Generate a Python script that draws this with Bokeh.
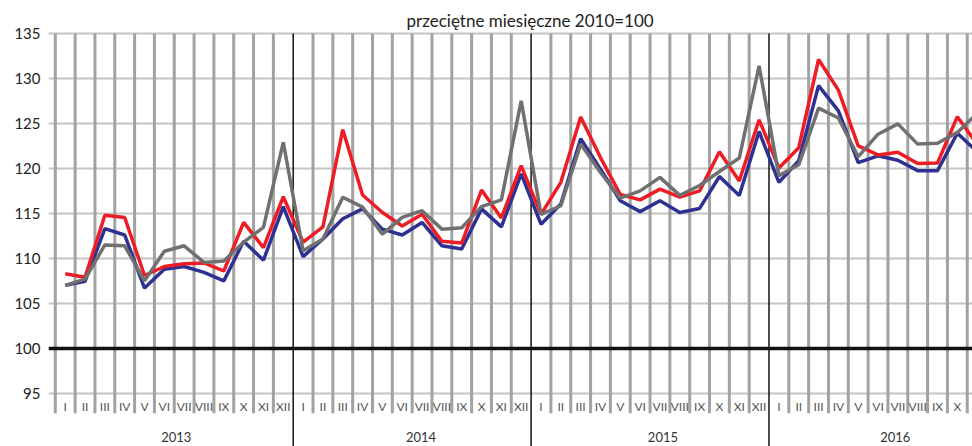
from bokeh.plotting import figure
from bokeh.models import Range1d, FixedTicker, Span
from bokeh.core.properties import value
from bokeh.embed import file_html
from bokeh.resources import INLINE

# ---------------- data ----------------
title_text = "przeciętne miesięczne 2010=100"
years = ["2013", "2014", "2015", "2016"]
months = ["I", "II", "III", "IV", "V", "VI", "VII", "VIII", "IX", "X", "XI", "XII"]
y_ticks = [95, 100, 105, 110, 115, 120, 125, 130, 135]

red_series = [
    108.3, 107.9, 114.8, 114.55, 108.1, 109.1, 109.4, 109.5, 108.6, 114.0, 111.2, 116.85,
    111.8, 113.5, 124.3, 117.05, 115.1, 113.6, 114.9, 111.9, 111.7, 117.6, 114.5, 120.3,
    114.9, 118.45, 125.7, 121.2, 117.1, 116.5, 117.7, 116.8, 117.5, 121.85, 118.6, 125.4,
    120.05, 122.3, 132.1, 128.7, 122.5, 121.5, 121.8, 120.55, 120.6, 125.75, 122.7,
]
blue_series = [
    107.0, 107.45, 113.3, 112.6, 106.7, 108.8, 109.1, 108.45, 107.5, 111.9, 109.8, 115.75,
    110.2, 112.15, 114.4, 115.5, 113.25, 112.6, 114.0, 111.4, 111.05, 115.5, 113.5, 119.4,
    113.8, 116.05, 123.3, 119.9, 116.4, 115.2, 116.4, 115.1, 115.55, 119.1, 117.0, 124.1,
    118.45, 120.85, 129.2, 126.4, 120.65, 121.4, 120.9, 119.75, 119.75, 123.9, 121.85,
]
gray_series = [
    107.0, 107.7, 111.5, 111.4, 107.5, 110.8, 111.4, 109.55, 109.7, 111.8, 113.45, 122.9,
    110.85, 112.15, 116.8, 115.7, 112.7, 114.55, 115.3, 113.25, 113.4, 115.75, 116.5, 127.5,
    114.9, 115.85, 122.7, 119.55, 116.7, 117.5, 119.0, 117.0, 118.1, 119.65, 121.15, 131.4,
    119.2, 120.4, 126.7, 125.6, 121.3, 123.8, 124.95, 122.7, 122.8, 124.0, 126.1,
]

# ---------------- layout ----------------
n = len(red_series)
xc = [i + 0.5 for i in range(n)]

PX = 19.825          # pixels per month
PY = 9.0             # pixels per index point
W, H = 972, 446
LEFT = 48
frame_w = W - LEFT
frame_h = H
x0 = -0.343
x1 = x0 + frame_w / PX
y_high = max(y_ticks)
y_low = min(y_ticks)
y_top = y_high + 32.9 / PY
bottom = y_top - frame_h / PY

p = figure(width=W, height=H, output_backend="svg", toolbar_location=None,
           x_range=Range1d(x0, x1), y_range=Range1d(bottom, y_top),
           min_border_left=LEFT, min_border_right=0, min_border_top=0,
           min_border_bottom=0, x_axis_location=None, outline_line_color=None,
           background_fill_color="white", border_fill_color="white")

for g in p.xgrid:
    g.visible = False

yax = p.yaxis[0]
yax.ticker = FixedTicker(ticks=y_ticks)
yax.axis_line_color = None
yax.major_tick_line_color = None
yax.minor_tick_line_color = None
yax.major_tick_out = 0
yax.major_tick_in = 0
yax.major_label_standoff = 8
yax.major_label_text_font = "Lato"
yax.major_label_text_font_size = "15px"
yax.major_label_text_color = "#222222"

yg = p.ygrid[0]
yg.ticker = FixedTicker(ticks=y_ticks)
yg.grid_line_color = "#c4c4c4"
yg.grid_line_width = 2

tick_bottom = y_low - 2.2

# gray vertical category lines
gb = [b for b in range(0, n) if b == 0 or b % 12 != 0]
p.segment(x0=gb, y0=[y_high] * len(gb), x1=gb, y1=[tick_bottom] * len(gb),
          line_color="#a2a2a2", line_width=3)

# 100 base line
p.add_layout(Span(location=100, dimension="width", line_color="#111111", line_width=3.5))

# year separators
yb = [12 * k for k in range(1, len(years))]
p.segment(x0=yb, y0=[y_high] * len(yb), x1=yb, y1=[bottom] * len(yb),
          line_color="#111111", line_width=1.5)

# series lines
p.line(xc, blue_series, line_color="#2e3192", line_width=3.5)
p.line(xc, red_series, line_color="#ee1c25", line_width=3.5)
p.line(xc, gray_series, line_color="#707070", line_width=3.5)

# month labels (only those fully inside the plotting area)
mx = [x for x in xc if x <= x1 - 0.5]
ml = [months[i % 12] for i in range(len(mx))]
p.text(x=mx, y=[y_low - 1.46] * len(mx), text=ml,
       text_align="center", text_baseline="middle",
       text_font=value("Lato"), text_font_size="12px", text_color="#555555")

# year labels
year_shift = [0.1, 0.45, 0.65, 0.37]
yx = [12 * k + 6 + year_shift[k] for k in range(len(years))]
p.text(x=yx, y=[y_low - 4.85] * len(years), text=years,
       text_align="center", text_baseline="middle",
       text_font=value("Lato"), text_font_size="13px", text_color="#333333")

# title
p.text(x=[23.95], y=[y_high + 1.43], text=[title_text],
       text_align="center", text_baseline="middle",
       text_font=value("Lato"), text_font_size="17px", text_color="#222222")

open("out.html", "w").write(file_html(p, INLINE))
